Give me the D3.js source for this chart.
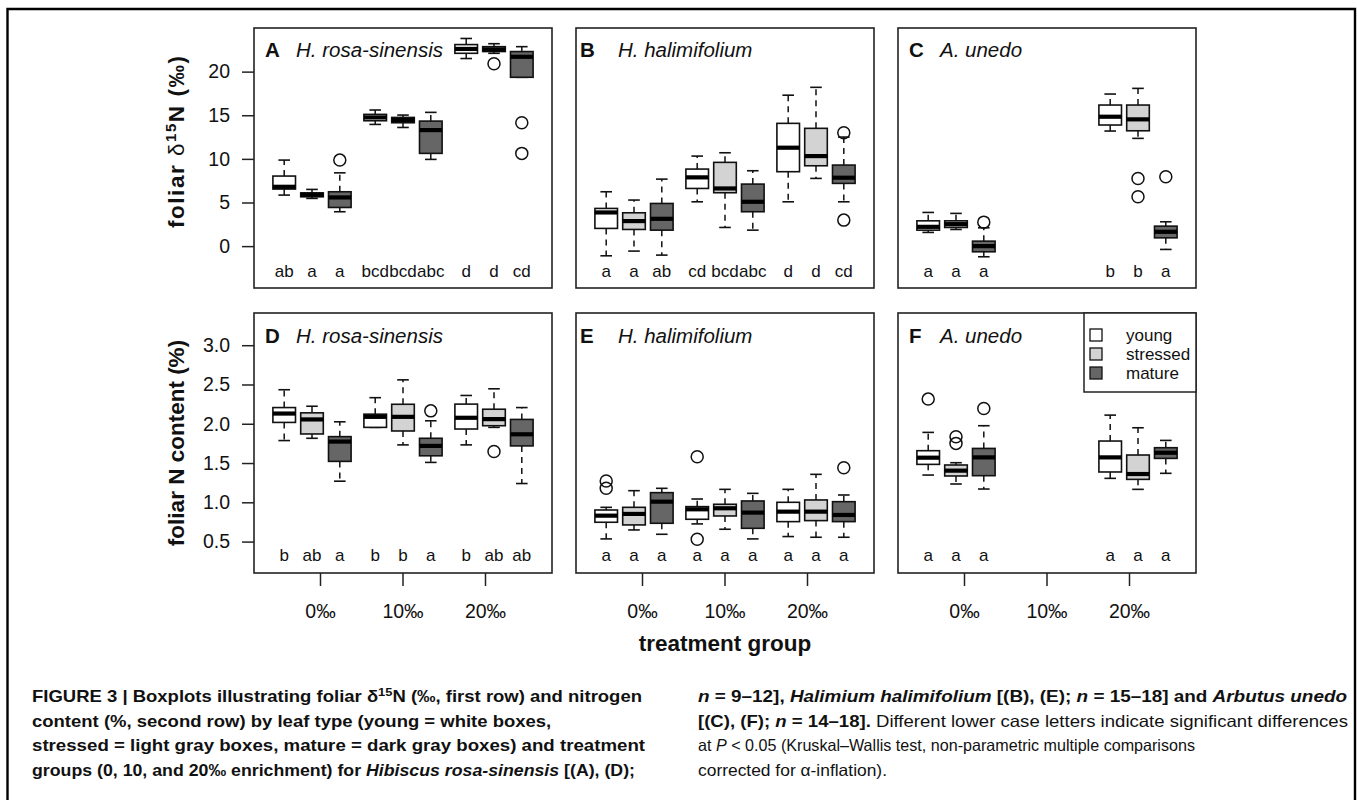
<!DOCTYPE html>
<html><head><meta charset="utf-8">
<script src="https://cdn.jsdelivr.net/npm/d3@7"></script>
<style>
body{margin:0;background:#fff}
svg{display:block}
text{font-family:"Liberation Sans",Arial,Helvetica,sans-serif}
</style>
</head><body>
<svg id="c" width="1357" height="800"></svg>
<script>
// ---------------- data ----------------
const groups = ["0‰", "10‰", "20‰"];
const leafTypes = ["young", "stressed", "mature"];
const panelLetters = ["A", "B", "C", "D", "E", "F"];
const speciesNames = ["H. rosa-sinensis", "H. halimifolium", "A. unedo"];
const d15NTicks = [0, 5, 10, 15, 20];
const nContentTicks = [0.5, 1.0, 1.5, 2.0, 2.5, 3.0];

// each box: [lower whisker, Q1, median, Q3, upper whisker]
// order: 0‰ young, stressed, mature, 10‰ young, stressed, mature, 20‰ young, stressed, mature
const d15N_rosa = [
  [5.85, 6.54, 6.8, 8.03, 9.86], [5.47, 5.65, 5.9, 6.1, 6.5], [3.94, 4.43, 5.58, 6.23, 8.4],
  [13.95, 14.37, 14.75, 15.1, 15.6], [13.6, 14.14, 14.45, 14.75, 15.02], [9.94, 10.63, 13.3, 14.33, 15.33],
  [21.5, 22.1, 22.6, 23.1, 23.8], [22.1, 22.3, 22.55, 22.86, 23.2], [19.35, 19.35, 21.7, 22.3, 22.86]
];
const d15N_rosa_out = [[], [], [9.86], [], [], [], [], [20.9], [14.14, 10.63]];
const d15N_rosa_letters = ["ab", "a", "a", "bcd", "bcd", "abc", "d", "d", "cd"];

const d15N_hali = [
  [-1.11, 2.03, 3.86, 4.32, 6.23], [-0.57, 1.91, 2.87, 3.82, 5.28], [-1.03, 1.83, 3.13, 4.89, 7.68],
  [5.08, 6.61, 7.88, 8.83, 10.32], [2.14, 6.12, 6.61, 9.6, 10.7], [1.83, 3.94, 5.08, 7.11, 8.64],
  [5.08, 8.53, 11.28, 14.07, 17.3], [7.76, 9.21, 10.32, 13.5, 18.2], [5.08, 7.19, 7.84, 9.29, 12.5]
];
const d15N_hali_out = [[], [], [], [], [], [], [], [], [13.0, 2.98]];
const d15N_hali_letters = ["a", "a", "ab", "cd", "bcd", "abc", "d", "d", "cd"];

const d15N_unedo = [
  [1.57, 1.83, 2.21, 2.9, 3.86], [1.91, 2.14, 2.52, 2.9, 3.75], [-1.22, -0.65, 0.0, 0.57, 2.1],
  null, null, null,
  [13.19, 13.88, 14.83, 16.17, 17.43], [12.35, 13.22, 14.53, 16.17, 18.08], [-0.38, 0.95, 1.64, 2.29, 2.79]
];
const d15N_unedo_out = [[], [], [2.75], [], [], [], [], [7.76, 5.65], [7.95]];
const d15N_unedo_letters = ["a", "a", "a", "", "", "", "b", "b", "a"];

const nc_rosa = [
  [1.786, 2.017, 2.13, 2.206, 2.433], [1.815, 1.87, 2.055, 2.139, 2.223], [1.269, 1.521, 1.773, 1.836, 2.025],
  [1.954, 1.954, 2.088, 2.122, 2.332], [1.731, 1.908, 2.088, 2.248, 2.559], [1.508, 1.592, 1.718, 1.815, 2.038],
  [1.731, 1.933, 2.076, 2.25, 2.36], [1.954, 1.975, 2.059, 2.185, 2.445], [1.239, 1.718, 1.866, 2.055, 2.206]
];
const nc_rosa_out = [[], [], [], [], [], [2.164], [], [1.647], []];
const nc_rosa_letters = ["b", "ab", "a", "b", "b", "a", "b", "ab", "ab"];

const nc_hali = [
  [0.534, 0.746, 0.83, 0.902, 0.936], [0.648, 0.712, 0.852, 0.936, 1.148], [0.593, 0.733, 1.008, 1.123, 1.178],
  [0.725, 0.784, 0.911, 0.945, 1.042], [0.657, 0.826, 0.924, 0.975, 1.165], [0.534, 0.669, 0.869, 1.017, 1.114],
  [0.564, 0.754, 0.881, 1.0, 1.165], [0.555, 0.767, 0.881, 1.03, 1.356], [0.555, 0.754, 0.839, 1.008, 1.093]
];
const nc_hali_out = [[1.271, 1.178], [], [], [1.58, 0.53], [], [], [], [], [1.44]];
const nc_hali_letters = ["a", "a", "a", "a", "a", "a", "a", "a", "a"];

const nc_unedo = [
  [1.347, 1.483, 1.568, 1.657, 1.89], [1.233, 1.335, 1.403, 1.475, 1.504], [1.169, 1.339, 1.572, 1.686, 1.975],
  null, null, null,
  [1.305, 1.386, 1.572, 1.78, 2.11], [1.165, 1.292, 1.36, 1.602, 1.949], [1.369, 1.559, 1.631, 1.695, 1.788]
];
const nc_unedo_out = [[2.314], [1.835, 1.75], [2.195], [], [], [], [], [], []];
const nc_unedo_letters = ["a", "a", "a", "", "", "", "a", "a", "a"];

const yTitles = ["foliar N content (%)"];
const xTitle = "treatment group";

// caption segments: [text, weight, italic, superscript]
const captionLeft = [
  [["FIGURE 3 | Boxplots illustrating foliar δ", "b"], ["15", "b", 0, 1], ["N (‰, first row) and nitrogen", "b"]],
  [["content (%, second row) by leaf type (young = white boxes,", "b"]],
  [["stressed = light gray boxes, mature = dark gray boxes) and treatment", "b"]],
  [["groups (0, 10, and 20‰ enrichment) for ", "b"], ["Hibiscus rosa-sinensis", "b", 1], [" [(A), (D);", "b"]]
];
const captionRight = [
  [["n", "b", 1], [" = 9–12], ", "b"], ["Halimium halimifolium", "b", 1], [" [(B), (E); ", "b"], ["n", "b", 1], [" = 15–18] and ", "b"], ["Arbutus unedo", "b", 1]],
  [["[(C), (F); ", "b"], ["n", "b", 1], [" = 14–18].", "b"], [" Different lower case letters indicate significant differences", "n"]],
  [["at ", "n"], ["P", "n", 1], [" < 0.05 (Kruskal–Wallis test, non-parametric multiple comparisons", "n"]],
  [["corrected for α-inflation).", "n"]]
];

// ---------------- layout ----------------
const svg = d3.select("#c");
const colX = [254, 576, 898], rowY = [28, 313];
const PW = 298, PH = 260;
const yDomains = [[-4.8, 25.0], [0.1, 3.41]];
const fillScale = d3.scaleOrdinal().domain(leafTypes).range(["#ffffff", "#d3d3d3", "#666666"]);
const letterOffsets = [11, 4, 11];

const panels = [
  {stats: d15N_rosa, out: d15N_rosa_out, letters: d15N_rosa_letters},
  {stats: d15N_hali, out: d15N_hali_out, letters: d15N_hali_letters},
  {stats: d15N_unedo, out: d15N_unedo_out, letters: d15N_unedo_letters},
  {stats: nc_rosa, out: nc_rosa_out, letters: nc_rosa_letters},
  {stats: nc_hali, out: nc_hali_out, letters: nc_hali_letters},
  {stats: nc_unedo, out: nc_unedo_out, letters: nc_unedo_letters}
];

// outer frame
svg.append("path")
  .attr("d", "M7.5,800 V9 H1355 V800")
  .attr("fill", "none").attr("stroke", "#000").attr("stroke-width", 2.4);

const BW = 22.6, CAP = 5.8;

panels.forEach((p, i) => {
  const r = Math.floor(i / 3), c = i % 3;
  const g = svg.append("g").attr("transform", `translate(${colX[c]},${rowY[r]})`);
  const y = d3.scaleLinear().domain(yDomains[r]).range([PH, 0]);
  const gx = d3.scalePoint().domain(groups).range([58, 240]);
  const tx = d3.scalePoint().domain(leafTypes).range([-27.8, 27.8]);
  const ax = d3.scalePoint().domain(groups).range([66, 231]);

  const items = [];
  groups.forEach((grp, gi) => leafTypes.forEach((lt, ti) => {
    const k = gi * 3 + ti;
    items.push({grp, lt, s: p.stats[k], out: p.out[k], letter: p.letters[k], x: gx(grp) + tx(lt)});
  }));

  items.filter(d => d.s).forEach(d => {
    const [lo, q1, med, q3, hi] = d.s;
    const bg = g.append("g");
    bg.append("line").attr("x1", d.x).attr("x2", d.x).attr("y1", y(q3)).attr("y2", y(hi))
      .attr("stroke", "#111").attr("stroke-width", 1.5).attr("stroke-dasharray", "6,5");
    bg.append("line").attr("x1", d.x).attr("x2", d.x).attr("y1", y(q1)).attr("y2", y(lo))
      .attr("stroke", "#111").attr("stroke-width", 1.5).attr("stroke-dasharray", "6,5");
    [lo, hi].forEach(v => bg.append("line").attr("x1", d.x - CAP).attr("x2", d.x + CAP)
      .attr("y1", y(v)).attr("y2", y(v)).attr("stroke", "#111").attr("stroke-width", 1.6));
    bg.append("rect").attr("x", d.x - BW / 2).attr("width", BW)
      .attr("y", y(q3)).attr("height", Math.max(0.5, y(q1) - y(q3)))
      .attr("fill", fillScale(d.lt)).attr("stroke", "#111").attr("stroke-width", 1.6);
    bg.append("line").attr("x1", d.x - BW / 2).attr("x2", d.x + BW / 2)
      .attr("y1", y(med)).attr("y2", y(med)).attr("stroke", "#000").attr("stroke-width", 4.2);
  });
  items.forEach(d => (d.out || []).forEach(v => {
    g.append("circle").attr("cx", d.x).attr("cy", y(v)).attr("r", 6)
      .attr("fill", "none").attr("stroke", "#111").attr("stroke-width", 1.5);
  }));
  g.selectAll("text.sig").data(items.filter(d => d.letter)).join("text")
    .attr("class", "sig").attr("x", d => d.x).attr("y", r === 0 ? 249 : 248)
    .attr("text-anchor", "middle").attr("font-size", 17).attr("fill", "#111").text(d => d.letter);

  g.append("rect").attr("width", PW).attr("height", PH).attr("fill", "none")
    .attr("stroke", "#222").attr("stroke-width", 1.6);

  g.append("text").attr("x", letterOffsets[c]).attr("y", r === 0 ? 29 : 30)
    .attr("font-size", 20.5).attr("font-weight", "bold").attr("fill", "#111").text(panelLetters[i]);
  g.append("text").attr("x", 42).attr("y", r === 0 ? 29 : 30)
    .attr("font-size", 20.5).attr("font-style", "italic").attr("fill", "#111").text(speciesNames[c]);

  if (c === 0) {
    const axis = d3.axisLeft(y).tickValues(r === 0 ? d15NTicks : nContentTicks)
      .tickSize(12).tickPadding(12).tickFormat(r === 0 ? d3.format("d") : d3.format(".1f"));
    const ag = g.append("g").call(axis);
    ag.select(".domain").remove();
    ag.selectAll("line").attr("stroke", "#222").attr("stroke-width", 1.5);
    ag.selectAll("text").attr("font-size", 19.5).attr("fill", "#111")
      .attr("font-family", '"Liberation Sans",Arial,sans-serif');
  }
  if (r === 1) {
    const axis = d3.axisBottom(ax).tickSize(13).tickPadding(18);
    const ag = g.append("g").attr("transform", `translate(0,${PH})`).call(axis);
    ag.select(".domain").remove();
    ag.selectAll("line").attr("stroke", "#222").attr("stroke-width", 1.5);
    ag.selectAll("text").attr("font-size", 19.5).attr("fill", "#111")
      .attr("font-family", '"Liberation Sans",Arial,sans-serif');
  }

  if (i === 5) {
    const lg = g.append("g").attr("transform", "translate(186,0)");
    lg.append("rect").attr("width", PW - 186).attr("height", 79)
      .attr("fill", "#fff").attr("stroke", "#222").attr("stroke-width", 1.5);
    leafTypes.forEach((lt, k) => {
      const cy = 22 + k * 19;
      lg.append("rect").attr("x", 6).attr("y", cy - 6).attr("width", 12).attr("height", 12)
        .attr("fill", fillScale(lt)).attr("stroke", "#111").attr("stroke-width", 1.3);
      lg.append("text").attr("x", 42).attr("y", cy).attr("dy", "0.36em")
        .attr("font-size", 17).attr("fill", "#111").text(lt);
    });
  }
});

// y titles
const t1 = svg.append("text").attr("transform", "translate(184,142) rotate(-90)")
  .attr("text-anchor", "middle").attr("font-size", 22.5).attr("font-weight", "bold").attr("fill", "#111")
  .attr("textLength", 172).attr("lengthAdjust", "spacing");
t1.append("tspan").text("foliar ");
t1.append("tspan").attr("font-weight", "normal").text("δ");
t1.append("tspan").attr("font-size", 15).attr("dy", -8).text("15");
t1.append("tspan").attr("dy", 8).text("N (‰)");

svg.append("text").attr("transform", "translate(184,443) rotate(-90)")
  .attr("text-anchor", "middle").attr("font-size", 22.5).attr("font-weight", "bold").attr("fill", "#111")
  .text(yTitles[0]);

svg.append("text").attr("x", 725).attr("y", 651).attr("text-anchor", "middle")
  .attr("font-size", 22.5).attr("font-weight", "bold").attr("fill", "#111").text(xTitle);

// caption: widths null -> use the condensing ratio of the first line of the block
function captionBlock(lines, x0, widths) {
  const nodes = lines.map((segs, li) => {
    const t = svg.append("text").attr("x", x0).attr("y", 702 + li * 24.5)
      .attr("font-size", 16.5).attr("fill", "#111");
    let shifted = false;
    segs.forEach(([txt, w, it, sup]) => {
      const ts = t.append("tspan").text(txt)
        .attr("font-weight", w === "b" ? "bold" : "normal")
        .attr("font-style", it ? "italic" : "normal");
      if (sup) { ts.attr("font-size", 11.5).attr("dy", -6); shifted = true; }
      else if (shifted) { ts.attr("dy", 6); shifted = false; }
    });
    return t;
  });
  const ratio = widths[0] / nodes[0].node().getComputedTextLength();
  nodes.forEach((t, li) => {
    const w = widths[li] != null ? widths[li] : t.node().getComputedTextLength() * ratio;
    t.attr("textLength", w).attr("lengthAdjust", "spacingAndGlyphs");
  });
}
captionBlock(captionLeft, 32, [610, null, 613, 603]);
captionBlock(captionRight, 698, [649, 650, 497, 189]);
</script>
</body></html>
